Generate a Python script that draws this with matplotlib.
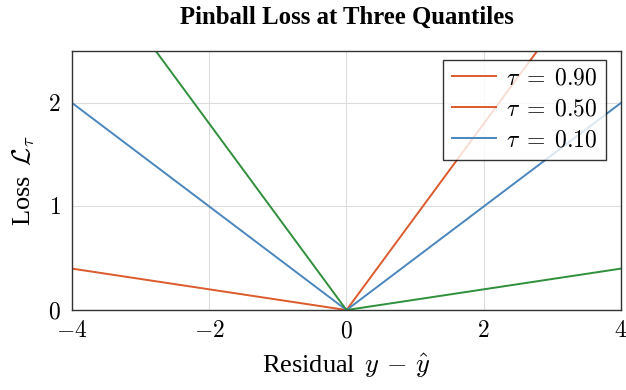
import matplotlib
matplotlib.use("Agg")
import matplotlib.pyplot as plt
from matplotlib.lines import Line2D

# Residual grid and pinball loss values
residual = [-4, 0, 4]
loss_tau90 = [0.4, 0.0, 3.6]
loss_tau50 = [2.0, 0.0, 2.0]
loss_tau10 = [3.6, 0.0, 0.4]

x_ticks = [-4, -2, 0, 2, 4]
y_ticks = [0, 1, 2]
legend_labels = [r"$\tau \;=\; 0.90$", r"$\tau \;=\; 0.50$", r"$\tau \;=\; 0.10$"]

ORANGE = "#dc5a2c"
BLUE = "#4a86bd"
GREEN = "#2f8f3a"

plt.rcParams["font.family"] = ["Liberation Serif", "DejaVu Serif"]
plt.rcParams["mathtext.fontset"] = "cm"

fig = plt.figure(figsize=(6.26, 3.9), dpi=100)
ax = fig.add_axes([0.115, 0.205, 0.877, 0.664])

ax.plot(residual, loss_tau90, color=ORANGE, lw=1.4)
ax.plot(residual, loss_tau50, color=BLUE, lw=1.4)
ax.plot(residual, loss_tau10, color=GREEN, lw=1.4)

ax.set_xlim(-4, 4)
ax.set_ylim(0, 2.5)
ax.set_xticks(x_ticks)
ax.set_yticks(y_ticks)
ax.set_xticklabels([f"${t}$" if t >= 0 else f"$-{abs(t)}$" for t in x_ticks])
ax.set_yticklabels([f"${t}$" for t in y_ticks])
ax.tick_params(labelsize=17, length=0)
ax.tick_params(axis="x", pad=8)
ax.tick_params(axis="y", pad=8)
ax.grid(True, color="#dddddd", lw=0.8)
ax.set_axisbelow(True)
for s in ax.spines.values():
    s.set_color("#333333")
    s.set_linewidth(1.0)

ax.set_xlabel(r"Residual $\,y \,-\, \hat{y}$", fontsize=19, labelpad=7)
ax.set_ylabel(r"Loss $\,\mathcal{L}_\tau$", fontsize=19, labelpad=8)
fig.suptitle("Pinball Loss at Three Quantiles", fontsize=17.8, fontweight="bold",
             x=0.554, y=0.985)

# legend colours as shown in the reference
handles = [Line2D([], [], color=c, lw=1.4) for c in (ORANGE, ORANGE, BLUE)]
leg = ax.legend(handles, legend_labels, loc="upper right", fontsize=17,
                bbox_to_anchor=(0.972, 0.967), borderaxespad=0,
                frameon=True, fancybox=False, borderpad=0.35, labelspacing=0.4,
                handlelength=1.9, handletextpad=0.4)
leg.get_frame().set_edgecolor("black")
leg.get_frame().set_linewidth(1.0)

fig.savefig("out.png", dpi=100)
